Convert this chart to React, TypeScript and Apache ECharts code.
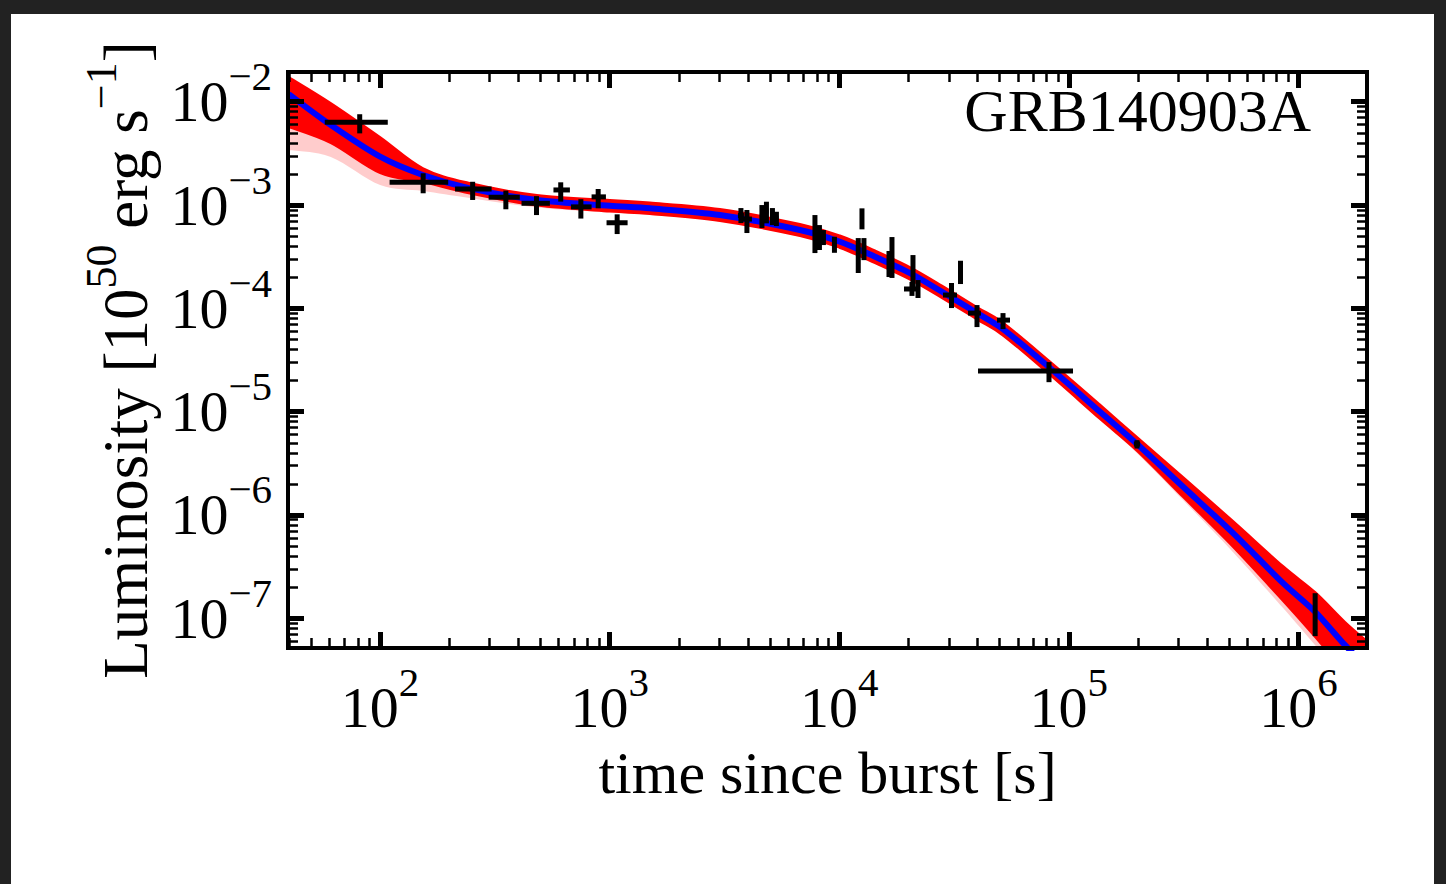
import React, { useEffect, useRef } from "react";
import * as echarts from "echarts";

const FONT = "'Liberation Serif', 'Times New Roman', Times, serif";

// axis extents (log axes)
const X_MIN = 39.7;
const X_MAX = 1.99e6;
const Y_MIN = 5.16e-8;
const Y_MAX = 1.94e-2;

// ticks
const xMajorTicks = [1e2, 1e3, 1e4, 1e5, 1e6];
const yMajorTicks = [1e-7, 1e-6, 1e-5, 1e-4, 1e-3, 1e-2];
const xDecades = [1e1, 1e2, 1e3, 1e4, 1e5, 1e6];
const yDecades = [1e-8, 1e-7, 1e-6, 1e-5, 1e-4, 1e-3, 1e-2];
const minorSteps = [2, 3, 4, 5, 6, 7, 8, 9];

const xTitle = "time since burst [s]";
const grbName = "GRB140903A";

// best-fit model curve (blue)
const modelT = [40, 61, 100, 153.5, 246, 482, 1002, 1497, 3021, 6743, 10070, 14310, 20330, 28030, 39810, 51680, 82820, 136700, 198200, 314500, 519400, 857800, 1183000, 1597000, 1992000];
const modelL = [1.187e-2, 5.95e-3, 2.935e-3, 1.952e-3, 1.451e-3, 1.118e-3, 9.84e-4, 9.29e-4, 8.0e-4, 5.73e-4, 4.41e-4, 3.16e-4, 2.197e-4, 1.447e-4, 9.01e-5, 6.3e-5, 2.643e-5, 9.98e-6, 4.86e-6, 1.875e-6, 6.68e-7, 2.19e-7, 1.156e-7, 5.5e-8, 3.35e-8];
// spread of posterior model curves (red)
const bandHi = [1.734e-2, 9.71e-3, 4.55e-3, 2.282e-3, 1.633e-3, 1.25e-3, 1.118e-3, 1.057e-3, 9.15e-4, 6.55e-4, 5.07e-4, 3.63e-4, 2.51e-4, 1.662e-4, 1.029e-4, 7.29e-5, 3.055e-5, 1.171e-5, 5.68e-6, 2.327e-6, 8.73e-7, 3.2e-7, 1.793e-7, 9.21e-8, 5.99e-8];
const bandLo = [5.69e-3, 3.983e-3, 2.04e-3, 1.67e-3, 1.292e-3, 9.89e-4, 8.65e-4, 8.18e-4, 7.0e-4, 5.01e-4, 3.84e-4, 2.745e-4, 1.9e-4, 1.258e-4, 7.79e-5, 5.45e-5, 2.26e-5, 8.48e-6, 4.16e-6, 1.49e-6, 4.89e-7, 1.467e-7, 6.58e-8, 3.02e-8, 1.805e-8];
const bandLoFaint = [3.407e-3, 2.915e-3, 1.561e-3, 1.366e-3, 1.169e-3, 9.46e-4, 8.46e-4, 8.0e-4, 6.92e-4, 4.96e-4, 3.79e-4, 2.715e-4, 1.879e-4, 1.244e-4, 7.7e-5, 5.39e-5, 2.236e-5, 8.29e-6, 3.97e-6, 1.394e-6, 4.37e-7, 1.256e-7, 5.5e-8, 2.53e-8, 1.444e-8];

// observations with error bars
const obsT = [81.5, 154, 253, 353, 480, 612, 749, 891, 1078, 3730, 3961, 4605, 4818, 5116, 5325, 7837, 8197, 8533, 9530, 12560, 12100, 12810, 16470, 16970, 20950, 20740, 22030, 33740, 30830, 39810, 51680, 81970, 198200, 1183000];
const obsL = [6.32e-3, 1.66e-3, 1.43e-3, 1.19e-3, 1.04e-3, 1.4e-3, 9.6e-4, 1.2e-3, 6.74e-4, 7.91e-4, 7.32e-4, 7.82e-4, 8.75e-4, 8.0e-4, 7.48e-4, 5.48e-4, 4.9e-4, 4.85e-4, 4.13e-4, 7.35e-4, 3.43e-4, 3.84e-4, 2.69e-4, 3.21e-4, 2.3e-4, 1.54e-4, 1.54e-4, 2.25e-4, 1.345e-4, 9.0e-5, 7.7e-5, 2.47e-5, 4.86e-6, 1.148e-7];
const obsTLo = [57.4, 110, 212, 297, 413, 569, 678, 834, 969, 3620, 3806, 4510, 4720, 5010, 5210, 7700, 8050, 8380, 9360, 12330, 11880, 12580, 16170, 16660, 20570, 19140, 21630, 33130, 28310, 36380, 48650, 40220, 192000, 1170000];
const obsTHi = [108, 198, 306, 406, 549, 671, 834, 963, 1197, 3843, 4165, 4700, 4920, 5230, 5440, 7980, 8350, 8690, 9700, 12790, 12320, 13050, 16770, 17280, 21340, 22470, 22440, 34360, 32580, 41430, 55420, 104300, 204500, 1196000];
const obsLLo = [4.94e-3, 1.3e-3, 1.12e-3, 9.1e-4, 8.0e-4, 1.08e-3, 7.4e-4, 9.3e-4, 5.24e-4, 6.69e-4, 5.36e-4, 5.99e-4, 6.65e-4, 6.4e-4, 6.26e-4, 3.43e-4, 3.67e-4, 4.1e-4, 3.45e-4, 5.82e-4, 2.2e-4, 2.93e-4, 2.01e-4, 1.97e-4, 1.5e-4, 1.32e-4, 1.26e-4, 1.72e-4, 1.007e-4, 6.59e-5, 6.3e-5, 1.93e-5, 4.4e-6, 6.72e-8];
const obsLHi = [7.57e-3, 2.03e-3, 1.68e-3, 1.38e-3, 1.22e-3, 1.66e-3, 1.14e-3, 1.43e-3, 8.13e-4, 9.35e-4, 8.95e-4, 1.0e-3, 1.077e-3, 9.35e-4, 8.61e-4, 8.0e-4, 6.4e-4, 5.73e-4, 4.93e-4, 9.29e-4, 4.79e-4, 4.79e-4, 3.59e-4, 4.9e-4, 3.28e-4, 1.8e-4, 1.88e-4, 2.89e-4, 1.76e-4, 1.076e-4, 9.0e-5, 3.02e-5, 5.3e-6, 1.75e-7];

const xMinorTicks = xDecades
  .flatMap((d) => minorSteps.map((m) => m * d))
  .filter((v) => v >= X_MIN && v <= X_MAX);
const yMinorTicks = yDecades
  .flatMap((d) => minorSteps.map((m) => m * d))
  .filter((v) => v >= Y_MIN && v <= Y_MAX);

const powLabel = (v: number) => {
  const e = Math.round(Math.log10(v));
  return `{b|10}{s|${e < 0 ? "\u2212" + -e : e}}`;
};

const tickRich = {
  b: { fontFamily: FONT, fontSize: 58, lineHeight: 92, color: "#000", verticalAlign: "middle" },
  s: { fontFamily: FONT, fontSize: 41, lineHeight: 20, color: "#000", verticalAlign: "top" },
};

// Catmull-Rom style smooth path through pixel points (rendering only)
function smoothPath(pts: number[][], move: boolean): string {
  let d = `${move ? "M" : "L"}${pts[0][0]},${pts[0][1]}`;
  const k = 1 / 6;
  for (let i = 0; i < pts.length - 1; i++) {
    const p0 = pts[Math.max(i - 1, 0)];
    const p1 = pts[i];
    const p2 = pts[i + 1];
    const p3 = pts[Math.min(i + 2, pts.length - 1)];
    const c1x = p1[0] + (p2[0] - p0[0]) * k;
    const c1y = p1[1] + (p2[1] - p0[1]) * k;
    const c2x = p2[0] - (p3[0] - p1[0]) * k;
    const c2y = p2[1] - (p3[1] - p1[1]) * k;
    d += `C${c1x},${c1y} ${c2x},${c2y} ${p2[0]},${p2[1]}`;
  }
  return d;
}

function makeAxis(dim: "x" | "y", position: string, major: boolean, withLine: boolean, extra: any = {}) {
  const isX = dim === "x";
  return {
    type: "log",
    logBase: 10,
    min: isX ? X_MIN : Y_MIN,
    max: isX ? X_MAX : Y_MAX,
    position,
    z: 10,
    axisLine: {
      show: withLine,
      onZero: false,
      lineStyle: { color: "#000", width: 4, cap: "square" },
    },
    axisTick: {
      show: true,
      inside: true,
      length: major ? 16 : 10,
      customValues: major ? (isX ? xMajorTicks : yMajorTicks) : isX ? xMinorTicks : yMinorTicks,
      lineStyle: { color: "#000", width: major ? 5 : 2.5 },
    },
    axisLabel: { show: false },
    splitLine: { show: false },
    minorTick: { show: false },
    minorSplitLine: { show: false },
    ...extra,
  };
}

export default function App() {
  const ref = useRef<HTMLDivElement>(null);

  useEffect(() => {
    if (!ref.current) return;
    const chart = echarts.init(ref.current, undefined, { renderer: "svg" });

    const bandSeries = (lower: number[], fill: string, stroke: string, z: number) => ({
      type: "custom",
      xAxisIndex: 0,
      yAxisIndex: 0,
      clip: true,
      silent: true,
      z,
      data: [[modelT[0], modelL[0]]],
      renderItem: (_params: any, api: any) => {
        const up: number[][] = modelT.map((t, i) => api.coord([t, bandHi[i]]));
        const low: number[][] = modelT.map((t, i) => api.coord([t, lower[i]])).reverse();
        const d = smoothPath(up, true) + smoothPath(low, false) + "Z";
        return {
          type: "path",
          shape: { pathData: d },
          style: { fill, stroke, lineWidth: stroke === "none" ? 0 : 2 },
        };
      },
    });

    const option: any = {
      animation: false,
      backgroundColor: "#222222",
      grid: { left: 288, top: 72, right: 79, bottom: 236, containLabel: false },
      xAxis: [
        makeAxis("x", "bottom", true, true, {
          axisLabel: {
            show: true,
            customValues: xMajorTicks,
            formatter: powLabel,
            margin: 13,
            rich: tickRich,
          },
          name: xTitle,
          nameLocation: "middle",
          nameGap: 95,
          nameTextStyle: { fontFamily: FONT, fontSize: 60, lineHeight: 60, color: "#000" },
        }),
        makeAxis("x", "bottom", false, false),
        makeAxis("x", "top", true, true),
        makeAxis("x", "top", false, false),
      ],
      yAxis: [
        makeAxis("y", "left", true, true, {
          axisLabel: {
            show: true,
            customValues: yMajorTicks,
            formatter: powLabel,
            margin: 16,
            rich: tickRich,
          },
          name: "{b|Luminosity [10}{s|50}{b| erg s}{s|\u22121}{b|]}",
          nameLocation: "middle",
          nameRotate: 90,
          nameGap: 131,
          nameTextStyle: {
            color: "#000",
            rich: {
              b: { fontFamily: FONT, fontSize: 63, lineHeight: 78, color: "#000", verticalAlign: "bottom" },
              s: { fontFamily: FONT, fontSize: 44, lineHeight: 30, color: "#000", verticalAlign: "top" },
            },
          },
        }),
        makeAxis("y", "left", false, false),
        makeAxis("y", "right", true, true),
        makeAxis("y", "right", false, false),
      ],
      graphic: [
        {
          type: "rect",
          z: -100,
          silent: true,
          shape: { x: 11, y: 14, width: 1423, height: 870 },
          style: { fill: "#ffffff" },
        },
        {
          type: "text",
          z: 100,
          x: 1311,
          y: 111,
          style: {
            text: grbName,
            font: `60px ${FONT}`,
            fontFamily: FONT,
            fontSize: 60,
            fill: "#000",
            textAlign: "right",
            align: "right",
            textVerticalAlign: "middle",
            verticalAlign: "middle",
          },
        },
      ],
      series: [
        bandSeries(bandLoFaint, "rgba(255,0,0,0.2)", "none", 1),
        bandSeries(bandLo, "#ff0000", "#ff0000", 2),
        {
          type: "line",
          xAxisIndex: 0,
          yAxisIndex: 0,
          data: modelT.map((t, i) => [t, modelL[i]]),
          showSymbol: false,
          smooth: 0.3,
          clip: true,
          silent: true,
          z: 3,
          lineStyle: { color: "#0000ff", width: 6 },
        },
        {
          type: "custom",
          xAxisIndex: 0,
          yAxisIndex: 0,
          z: 5,
          silent: true,
          encode: { x: [0, 2, 3], y: [1, 4, 5] },
          data: obsT.map((t, i) => [t, obsL[i], obsTLo[i], obsTHi[i], obsLLo[i], obsLHi[i]]),
          renderItem: (_params: any, api: any) => {
            const t = api.value(0);
            const l = api.value(1);
            const c = api.coord([t, l]);
            const xl = api.coord([api.value(2), l]);
            const xh = api.coord([api.value(3), l]);
            const yl = api.coord([t, api.value(4)]);
            const yh = api.coord([t, api.value(5)]);
            return {
              type: "group",
              children: [
                { type: "line", shape: { x1: xl[0], y1: c[1], x2: xh[0], y2: c[1] }, style: { stroke: "#000", lineWidth: 5 } },
                { type: "line", shape: { x1: c[0], y1: yl[1], x2: c[0], y2: yh[1] }, style: { stroke: "#000", lineWidth: 5 } },
              ],
            };
          },
        },
      ],
    };

    chart.setOption(option);
    return () => chart.dispose();
  }, []);

  return (
    <div
      ref={ref}
      style={{ position: "fixed", left: 0, top: 0, width: 1446, height: 884 }}
    />
  );
}
